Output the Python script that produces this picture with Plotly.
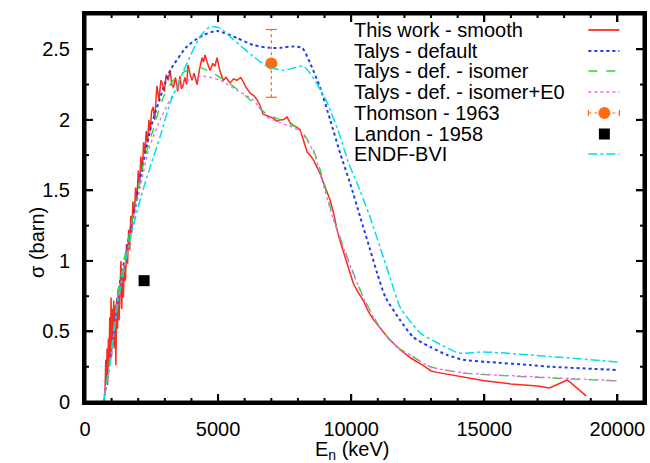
import plotly.graph_objects as go

# ---------------- data ----------------
red_E = [750, 780, 800, 830, 850, 880, 900, 930, 950, 980, 1000, 1030, 1050, 1080, 1100, 1130, 1160, 1190,
         1220, 1250, 1280, 1310, 1350, 1380, 1410, 1440, 1480, 1520, 1560, 1600, 1640, 1680, 1720, 1760,
         1800, 1850, 1900, 1950, 2000, 2050, 2100, 2150, 2200, 2250, 2300, 2350, 2400, 2450, 2500, 2560,
         2620, 2700, 2780, 2850, 2900, 2980, 3050, 3120, 3200, 3260, 3320, 3400, 3480, 3570, 3620, 3680,
         3750, 3820, 3870, 3950, 4020, 4100, 4210, 4300, 4400, 4450, 4510, 4600, 4700, 4800, 4880, 4960,
         5050, 5190, 5300, 5450, 5580, 5710, 5850, 5940, 6050, 6200, 6350, 6470, 6580, 6690, 6800, 6950,
         7100, 7200, 7330, 7450, 7590, 7700, 7820, 7950, 8080, 8200, 8350, 8450, 8570, 8700, 8830, 8950,
         9100, 9210, 9350, 9470, 9600, 9700, 9850, 9950, 10080, 10250, 10450, 10650, 10850, 11090, 11400,
         11840, 12250, 12700, 13000, 13230, 14000, 15000, 16000, 17000, 17450, 18120, 18830]
red_S = [0.05, 0.30, 0.15, 0.38, 0.12, 0.45, 0.25, 0.60, 0.28, 0.74, 0.32, 0.66, 0.40, 0.72, 0.38, 0.68, 0.26, 0.72,
         0.52, 0.80, 0.58, 0.88, 1.00, 0.66, 0.92, 0.74, 0.98, 0.86, 1.12, 0.98, 1.22, 1.08, 1.32, 1.20,
         1.42, 1.33, 1.52, 1.43, 1.64, 1.54, 1.74, 1.63, 1.84, 1.76, 1.92, 1.84, 2.00, 1.92, 2.06, 2.09,
         2.00, 2.24, 2.14, 2.28, 2.26, 2.20, 2.32, 2.28, 2.35, 2.25, 2.23, 2.30, 2.20, 2.31, 2.22, 2.24,
         2.30, 2.25, 2.39, 2.32, 2.28, 2.33, 2.25, 2.36, 2.44, 2.41, 2.46, 2.40, 2.35, 2.40, 2.38, 2.44,
         2.36, 2.28, 2.30, 2.26, 2.29, 2.28, 2.30, 2.27, 2.23, 2.19, 2.17, 2.14, 2.10, 2.04, 2.03, 2.02,
         2.01, 1.99, 2.00, 2.00, 2.02, 1.98, 1.96, 1.95, 1.93, 1.86, 1.77, 1.75, 1.72, 1.67, 1.62, 1.56,
         1.49, 1.43, 1.33, 1.22, 1.13, 1.07, 0.99, 0.92, 0.84, 0.78, 0.72, 0.64, 0.58, 0.525, 0.45,
         0.37, 0.31, 0.26, 0.22, 0.21, 0.185, 0.15, 0.128, 0.113, 0.099, 0.156, 0.043]

talys_E = [700, 1000, 1240, 1730, 2110, 2480, 3010, 3200, 3830, 4440, 4960, 5710, 6320, 6950, 7330, 7820,
           8160, 8460, 8830, 9210, 9590, 9960, 10340, 10710, 10980, 11280, 11840, 12330, 12970, 13610,
           14210, 15110, 16730, 17500, 20000]
talys_S = [0.0, 0.38, 0.77, 1.24, 1.62, 1.95, 2.26, 2.35, 2.52, 2.60, 2.63, 2.58, 2.53, 2.51, 2.51, 2.52,
           2.51, 2.40, 2.23, 2.00, 1.76, 1.55, 1.31, 1.08, 0.91, 0.745, 0.58, 0.46, 0.39, 0.333,
           0.30, 0.284, 0.262, 0.25, 0.227]

iso_E = [700, 1000, 1240, 1730, 2190, 2560, 2940, 3320, 3830, 4320, 4700, 5340, 6090, 6580, 6840, 7330,
         8080, 8570, 8830, 9320, 9850, 10450, 11090, 11730, 12330, 12970, 14210, 16730, 20000]
iso_S = [0.0, 0.40, 0.78, 1.25, 1.69, 1.93, 2.16, 2.28, 2.35, 2.37, 2.34, 2.27, 2.16, 2.08, 2.04, 2.00,
         1.93, 1.79, 1.65, 1.31, 1.03, 0.745, 0.525, 0.39, 0.32, 0.25, 0.205, 0.177, 0.149]

isoE0_E = [700, 1000, 1240, 1730, 2380, 2820, 3450, 4060, 4440, 5080, 5710, 6320, 6840, 7330, 8080, 8570,
           8950, 9320, 9850, 10450, 11090, 11730, 12330, 12970, 14210, 16730, 20000]
isoE0_S = [0.0, 0.37, 0.74, 1.20, 1.78, 2.00, 2.22, 2.30, 2.31, 2.28, 2.21, 2.14, 2.02, 1.98, 1.92, 1.78,
           1.54, 1.30, 1.02, 0.74, 0.52, 0.39, 0.32, 0.25, 0.207, 0.18, 0.151]

thomson_E = [7000]
thomson_S = [2.40]
thomson_err = [0.24]

landon_E = [2220]
landon_S = [0.86]

endf_E = [700, 1000, 1240, 1730, 2110, 2440, 2820, 3200, 3830, 4320, 4700, 5080, 5560, 6320, 6840, 7440,
          8200, 8570, 9100, 9590, 9890, 10220, 10710, 11200, 11600, 11840, 12590, 13230, 13990, 14200, 14960,
          16730, 20000]
endf_S = [0.0, 0.35, 0.71, 1.18, 1.46, 1.66, 1.88, 2.12, 2.40, 2.59, 2.66, 2.65, 2.57, 2.45, 2.38, 2.35,
          2.38, 2.30, 2.12, 1.88, 1.70, 1.55, 1.31, 1.03, 0.80, 0.67, 0.49, 0.42, 0.35, 0.345, 0.355,
          0.333, 0.284]

x_tickvals = [0, 5000, 10000, 15000, 20000]
x_ticktext = ["0", "5000", "10000", "15000", "20000"]
y_tickvals = [0, 0.5, 1, 1.5, 2, 2.5]
y_ticktext = ["0", "0.5", "1", "1.5", "2", "2.5"]
x_minor_step = 1000
y_minor_step = 0.25

legend_labels = ["This work - smooth", "Talys - default", "Talys - def. - isomer",
                 "Talys - def. - isomer+E0", "Thomson - 1963", "Landon - 1958", "ENDF-BVI"]

RED = "#ff2a1a"
BLUE = "#1f3cf0"
GREEN = "#22dd22"
MAG = "#ee66ee"
ORANGE = "#ff6a13"
CYAN = "#00e0e8"
FONT = "Liberation Sans, Arial, sans-serif"

X_RANGE = [0, 21000]
Y_RANGE = [0, 2.75]

# plot area in pixels
L, R, T, B = 85, 643.6, 14, 402
W, H = R - L, B - T

# ---------------- figure ----------------
fig = go.Figure()
fig.add_trace(go.Scatter(x=red_E, y=red_S, mode="lines", line=dict(color=RED, width=1.5), showlegend=False))
fig.add_trace(go.Scatter(x=talys_E, y=talys_S, mode="lines", line=dict(color=BLUE, width=2, dash="dot", shape="spline", smoothing=0.6), showlegend=False))
fig.add_trace(go.Scatter(x=iso_E, y=iso_S, mode="lines", line=dict(color=GREEN, width=1.3, dash="dash", shape="spline", smoothing=0.6), showlegend=False))
fig.add_trace(go.Scatter(x=isoE0_E, y=isoE0_S, mode="lines", line=dict(color=MAG, width=1.3, dash="dot", shape="spline", smoothing=0.6), showlegend=False))
fig.add_trace(go.Scatter(x=[thomson_E[0], thomson_E[0]],
                         y=[thomson_S[0] - thomson_err[0], thomson_S[0] + thomson_err[0]],
                         mode="lines+markers", line=dict(color=ORANGE, width=1.2, dash="dot"),
                         marker=dict(symbol="line-ew", size=8, line=dict(color=ORANGE, width=1.2)),
                         showlegend=False))
fig.add_trace(go.Scatter(x=thomson_E, y=thomson_S, mode="markers",
                         marker=dict(symbol="circle", size=12, color=ORANGE), showlegend=False))
fig.add_trace(go.Scatter(x=landon_E, y=landon_S, mode="markers",
                         marker=dict(symbol="square", size=11, color="black"), showlegend=False))
fig.add_trace(go.Scatter(x=endf_E, y=endf_S, mode="lines", line=dict(color=CYAN, width=1.5, dash="dashdot", shape="spline", smoothing=0.6), showlegend=False))

# ---------------- helpers: pixel -> paper ----------------
def px(xp):
    return (xp - L) / W
def py(yp):
    return (B - yp) / H
def xpaper(v):
    return (v - X_RANGE[0]) / (X_RANGE[1] - X_RANGE[0])
def ypaper(v):
    return (v - Y_RANGE[0]) / (Y_RANGE[1] - Y_RANGE[0])

shapes = []
annotations = []

# ---------------- frame and ticks as filled bars (gnuplot style) ----------------
def bar(xa, xb, ya, yb):
    shapes.append(dict(type="rect", xref="paper", yref="paper", x0=xa, x1=xb, y0=ya, y1=yb,
                       fillcolor="black", line=dict(width=0)))

fw_x, fw_y = 1.5 / W, 1.5 / H
bar(-fw_x, fw_x, -fw_y, 1 + fw_y)          # left
bar(1 - fw_x, 1 + fw_x, -fw_y, 1 + fw_y)   # right
bar(-fw_x, 1 + fw_x, -fw_y, fw_y)          # bottom
bar(-fw_x, 1 + fw_x, 1 - fw_y, 1 + fw_y)   # top

tw_x, tw_y = 1.0 / W, 1.0 / H
x_minor = [k * x_minor_step for k in range(1, int(X_RANGE[1] // x_minor_step) + 1)]
for v in x_tickvals + [m for m in x_minor if m not in x_tickvals]:
    ln = (8 if v in x_tickvals else 4) / H
    xp = xpaper(v)
    bar(xp - tw_x, xp + tw_x, 0, ln)
    bar(xp - tw_x, xp + tw_x, 1 - ln, 1)
y_minor = []
k = 1
while k * y_minor_step < Y_RANGE[1]:
    y_minor.append(k * y_minor_step)
    k += 1
for v in y_tickvals + [m for m in y_minor if m not in y_tickvals]:
    ln = (8 if v in y_tickvals else 4) / W
    yp = ypaper(v)
    bar(0, ln, yp - tw_y, yp + tw_y)
    bar(1 - ln, 1, yp - tw_y, yp + tw_y)

# ---------------- custom legend (gnuplot style) ----------------
rows = [30, 51, 71, 92, 113, 134, 154]
for lab, yr in zip(legend_labels, rows):
    annotations.append(dict(x=px(352), y=py(yr), xref="paper", yref="paper", text=lab,
                            showarrow=False, xanchor="left", yanchor="middle",
                            font=dict(size=20, color="black", family=FONT)))
x0, x1 = px(588), px(619)
samples = [(RED, "solid", 1.8), (BLUE, "dot", 2), (GREEN, "dash", 1.3), (MAG, "dot", 1.3)]
for (c, d, w), yr in zip(samples, rows[:4]):
    shapes.append(dict(type="line", xref="paper", yref="paper", x0=x0, x1=x1, y0=py(yr), y1=py(yr),
                       line=dict(color=c, width=w, dash=d)))
yr = rows[4]
shapes.append(dict(type="line", xref="paper", yref="paper", x0=x0, x1=x1, y0=py(yr), y1=py(yr),
                   line=dict(color=ORANGE, width=1.2, dash="dot")))
for xc in (588, 619):
    shapes.append(dict(type="line", xref="paper", yref="paper", x0=px(xc), x1=px(xc),
                       y0=py(yr - 3), y1=py(yr + 3), line=dict(color=ORANGE, width=1.2)))
shapes.append(dict(type="circle", xref="paper", yref="paper", x0=px(598), x1=px(610),
                   y0=py(yr + 6), y1=py(yr - 6), fillcolor=ORANGE, line=dict(color=ORANGE, width=0)))
yr = rows[5]
shapes.append(dict(type="rect", xref="paper", yref="paper", x0=px(598.5), x1=px(609.5),
                   y0=py(yr + 5.5), y1=py(yr - 5.5), fillcolor="black", line=dict(color="black", width=0)))
yr = rows[6]
shapes.append(dict(type="line", xref="paper", yref="paper", x0=x0, x1=x1, y0=py(yr), y1=py(yr),
                   line=dict(color=CYAN, width=1.5, dash="dashdot")))

annotations.append(dict(x=px(352), y=py(450), xref="paper", yref="paper",
                        text="E<sub>n</sub> (keV)", showarrow=False, xanchor="center", yanchor="middle",
                        font=dict(size=20, color="black", family=FONT)))
annotations.append(dict(x=px(37), y=py(242), xref="paper", yref="paper",
                        text="σ (barn)", showarrow=False, textangle=-90, xanchor="center", yanchor="middle",
                        font=dict(size=20, color="black", family=FONT)))

# native axes too (same positions as the bars), drawn below the traces
main_axis = dict(showline=True, linecolor="black", linewidth=3, mirror="allticks",
                 ticks="inside", ticklen=8, tickwidth=2, tickcolor="black", layer="below traces",
                 showgrid=False, zeroline=False,
                 tickfont=dict(size=20, color="black", family=FONT))

fig.update_layout(
    width=650, height=463,
    margin=dict(l=L, r=650 - R, t=T, b=463 - B, autoexpand=False),
    plot_bgcolor="white", paper_bgcolor="white",
    shapes=shapes, annotations=annotations, showlegend=False,
    xaxis=dict(range=X_RANGE, tickmode="array", tickvals=x_tickvals, ticktext=x_ticktext,
               ticklabelstandoff=7, **main_axis),
    yaxis=dict(range=Y_RANGE, tickmode="array", tickvals=y_tickvals, ticktext=y_ticktext,
               ticklabelstandoff=8, **main_axis),
)

fig.write_html("out.html", config={"displayModeBar": False},
               post_script="document.body.style.margin='0';document.body.style.overflow='hidden';")
